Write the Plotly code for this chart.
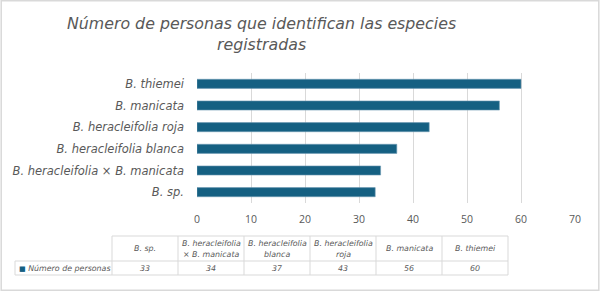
import plotly.graph_objects as go

categories = ["B. sp.", "B. heracleifolia × B. manicata", "B. heracleifolia blanca",
              "B. heracleifolia roja", "B. manicata", "B. thiemei"]
header_labels = ["B. sp.", "B. heracleifolia<br>× B. manicata", "B. heracleifolia<br>blanca",
                 "B. heracleifolia<br>roja", "B. manicata", "B. thiemei"]
values = [33, 34, 37, 43, 56, 60]
series_name = "Número de personas"
x_ticks = [0, 10, 20, 30, 40, 50, 60, 70]

BAR = "#156082"
GRAY = "#595959"
LINE = "#d9d9d9"
W, H = 600, 291
FONT = "DejaVu Sans"

fig = go.Figure()
fig.add_trace(go.Bar(
    y=categories, x=values, orientation="h",
    marker=dict(color=BAR, line=dict(color="#6f9bb3", width=0.6)),
    showlegend=False, hoverinfo="skip",
))

# ---- data table (layout geometry in pixels, converted to paper units) ----
px = lambda v: v / W
py = lambda v: 1 - v / H
tbl_left, col0_w, col_w = 15, 97, 66
row_top, row_mid, row_bot = 236, 261, 275
col_edges = [tbl_left + col0_w + i * col_w for i in range(len(values) + 1)]
tbl_right = col_edges[-1]

shapes = [dict(type="rect", xref="paper", yref="paper", x0=0.002, x1=0.998, y0=0.003, y1=0.997,
               line=dict(color=LINE, width=1.5))]
def hline(y, x0, x1):
    shapes.append(dict(type="line", xref="paper", yref="paper", x0=px(x0), x1=px(x1),
                       y0=py(y), y1=py(y), line=dict(color=LINE, width=1)))
def vline(x, y0, y1):
    shapes.append(dict(type="line", xref="paper", yref="paper", x0=px(x), x1=px(x),
                       y0=py(y0), y1=py(y1), line=dict(color=LINE, width=1)))
hline(row_top, col_edges[0], tbl_right)
hline(row_mid, tbl_left, tbl_right)
hline(row_bot, tbl_left, tbl_right)
vline(tbl_left, row_mid, row_bot)
for xe in col_edges:
    vline(xe, row_top, row_bot)

tfont = dict(family=FONT, size=7.9, color=GRAY, style="italic")
annotations = []
for i, (lab, v) in enumerate(zip(header_labels, values)):
    cx = (col_edges[i] + col_edges[i + 1]) / 2
    lines = lab.split("<br>")
    lh = 11
    y0 = (row_top + row_mid) / 2 - (len(lines) - 1) * lh / 2
    for k, ln in enumerate(lines):
        annotations.append(dict(text=ln, x=px(cx), y=py(y0 + k * lh), xref="paper", yref="paper",
                                xanchor="center", yanchor="middle", showarrow=False, font=tfont))
    annotations.append(dict(text=str(v), x=px(cx), y=py((row_mid + row_bot) / 2), xref="paper", yref="paper",
                            xanchor="center", yanchor="middle", showarrow=False, font=tfont))
annotations.append(dict(text=f"<span style='color:{BAR};font-size:7px;font-style:normal'>■</span> {series_name}",
                        x=px(tbl_left + 2), y=py((row_mid + row_bot) / 2), xref="paper", yref="paper",
                        xanchor="left", yanchor="middle", showarrow=False, font=tfont))
annotations.append(dict(text="Número de personas que identifican las especies<br>registradas",
                        x=px(261), y=py(34), xref="paper", yref="paper", xanchor="center", yanchor="middle",
                        align="center", showarrow=False,
                        font=dict(family=FONT, size=15.8, color=GRAY, style="italic")))

fig.update_layout(
    width=W, height=H, autosize=False,
    margin=dict(l=0, r=0, t=0, b=0, pad=0, autoexpand=False),
    paper_bgcolor="white", plot_bgcolor="white",
    bargap=0.58,
    xaxis=dict(
        domain=[197 / W, 575 / W], range=[0, 70], tickvals=x_ticks, automargin=False,
        showgrid=True, gridcolor=LINE, gridwidth=1, zeroline=False,
        showline=False, ticks="", ticklabelstandoff=8,
        tickfont=dict(family="Open Sans", size=10.5, color=GRAY),
    ),
    yaxis=dict(
        domain=[1 - 203 / H, 1 - 73 / H], showgrid=False, showline=False, automargin=False,
        ticks="", ticklabelstandoff=12,
        tickfont=dict(family=FONT, size=11.5, color=GRAY, style="italic"),
    ),
    shapes=shapes,
    annotations=annotations,
)

fig.write_html("out.html", config={"displayModeBar": False},
               post_script="document.body.style.margin='0';document.body.style.overflow='hidden';")
